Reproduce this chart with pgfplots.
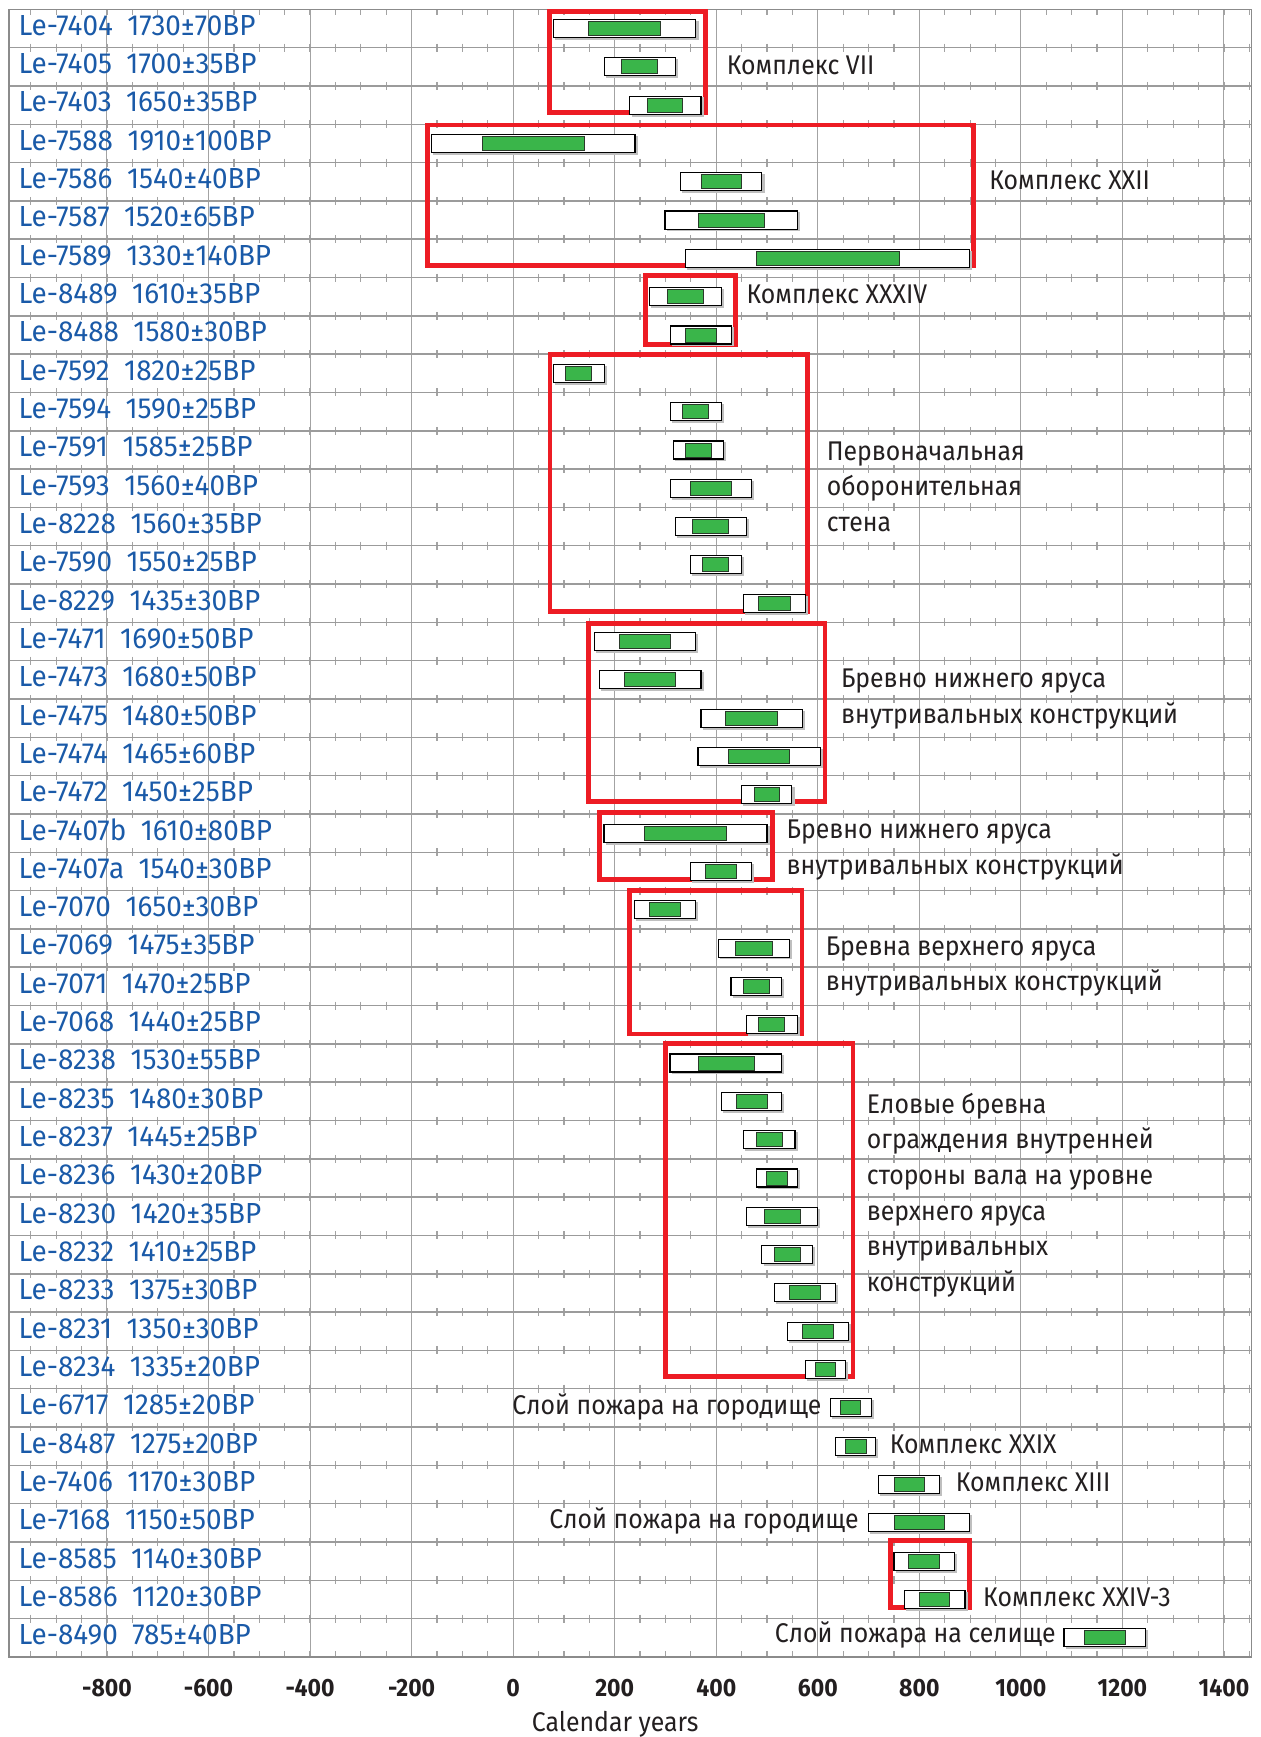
\documentclass[border=0pt]{standalone}
\usepackage{pgfplots}
\usepackage{pgfplotstable}
\pgfplotsset{compat=1.18}
\usepackage{fontspec}
\setmainfont{Fira Sans}[FakeStretch=0.92]
\newfontfamily\lblfam{Fira Sans}[FakeStretch=0.96]
\definecolor{grn}{HTML}{3AB54A}
\definecolor{gbd}{HTML}{2A3A2A}
\definecolor{redb}{HTML}{ED1C24}
\definecolor{lblue}{HTML}{1A5AA8}
\definecolor{txt}{HTML}{231F20}
\definecolor{gridc}{HTML}{A3A3A3}
\newcommand\lblfont{\lblfam\fontsize{14.5}{17}\selectfont}
\newcommand\annfont{\fontsize{13.5}{16}\selectfont}

\pgfplotstableread{
row wlo whi glo ghi
1 80 360 149 290
2 180 319 214 285
3 230 370 264 334
4 -161 240 -61 140
5 330 490 370 450
6 299 560 364 494
7 340 899 480 761
8 269 410 303 375
9 310 430 340 400
10 80 180 103 155
11 310 410 333 385
12 315 414 339 390
13 310 469 349 430
14 319 460 354 425
15 349 450 373 425
16 454 575 484 546
17 160 359 210 310
18 170 370 219 320
19 370 570 419 520
20 364 605 425 545
21 450 549 475 525
22 179 500 259 420
23 349 469 379 440
24 239 359 269 330
25 404 545 438 510
26 429 529 454 505
27 459 560 484 534
28 309 529 364 475
29 410 529 440 500
30 454 555 480 530
31 480 560 499 540
32 460 600 494 565
33 490 589 515 565
34 515 635 545 605
35 540 660 569 630
36 575 655 595 635
37 625 705 644 684
38 635 714 655 695
39 720 840 750 810
40 699 899 750 850
41 750 870 779 840
42 770 890 800 860
43 1085 1245 1125 1205
}\dates

\newcommand\rl[2]{\node[anchor=base west, inner sep=0pt, text=lblue, font=\lblfont] at (axis cs:-975,#1+0.18) {#2};}
\newcommand\anW[3]{\node[anchor=base west, inner sep=0pt, text=txt, font=\annfont] at (axis cs:#1,#2) {#3};}
\newcommand\anE[3]{\node[anchor=base east, inner sep=0pt, text=txt, font=\annfont] at (axis cs:#1,#2) {#3};}

\pgfplotsset{
  common/.style={
    x=0.25375pt, y=19.15pt, y dir=reverse,
    xmin=-993, xmax=1453.5, ymin=0.5, ymax=43.5,
    clip=false,
  },
  redbox/.style={draw=redb, line width=2.4pt, line join=miter, mark=none},
}

\begin{document}
\begin{tikzpicture}
\begin{axis}[
  common,
  axis line style={draw=gridc!85!black, line width=0.6pt},
  xtick={-800,-600,...,1400},
  xticklabels={-800,-600,-400,-200,0,200,400,600,800,1000,1200,1400},
  minor xtick={-950,-900,...,1450},
  ytick={0.5,1.5,...,43.5}, yticklabels={},
  xmajorgrids, xminorgrids, ymajorgrids,
  grid style={draw=gridc, line width=0.5pt},
  minor grid style={draw=gridc, line width=0.6pt, dash pattern=on 4pt off 15.15pt, dash phase=2pt},
  every axis y grid/.append style={line width=0.75pt, draw=gridc!95!black},
  major tick length=0pt, minor tick length=3pt,
  tick style={draw=gridc, line width=0.6pt},
  xticklabel style={anchor=north, inner sep=0pt, yshift=-11pt, text=txt, font=\bfseries\fontsize{12.5}{14}\selectfont},
]
% white (outer) ranges
\addplot[scatter, only marks, mark=text, text mark={},
  visualization depends on={0.25375*(\thisrow{whi}-\thisrow{wlo}) \as \ww},
  scatter/@pre marker code/.code={%
    \fill[black!25] (1pt,-5.4pt) rectangle (\ww pt+1pt,3.6pt);
    \draw[black, fill=white, line width=0.55pt] (0pt,-4.5pt) rectangle (\ww pt,4.5pt);},
  scatter/@post marker code/.code={}]
  table[x=wlo, y=row] {\dates};
% green (inner) ranges
\addplot[scatter, only marks, mark=text, text mark={},
  visualization depends on={0.25375*(\thisrow{ghi}-\thisrow{glo}) \as \gw},
  scatter/@pre marker code/.code={%
    \draw[gbd, fill=grn, line width=0.45pt] (0pt,-3.5pt) rectangle (\gw pt,3.5pt);},
  scatter/@post marker code/.code={}]
  table[x=glo, y=row] {\dates};

\rl{1}{Le-7404\hspace{0.5em}1730±70BP}
\rl{2}{Le-7405\hspace{0.5em}1700±35BP}
\rl{3}{Le-7403\hspace{0.5em}1650±35BP}
\rl{4}{Le-7588\hspace{0.5em}1910±100BP}
\rl{5}{Le-7586\hspace{0.5em}1540±40BP}
\rl{6}{Le-7587\hspace{0.5em}1520±65BP}
\rl{7}{Le-7589\hspace{0.5em}1330±140BP}
\rl{8}{Le-8489\hspace{0.5em}1610±35BP}
\rl{9}{Le-8488\hspace{0.5em}1580±30BP}
\rl{10}{Le-7592\hspace{0.5em}1820±25BP}
\rl{11}{Le-7594\hspace{0.5em}1590±25BP}
\rl{12}{Le-7591\hspace{0.5em}1585±25BP}
\rl{13}{Le-7593\hspace{0.5em}1560±40BP}
\rl{14}{Le-8228\hspace{0.5em}1560±35BP}
\rl{15}{Le-7590\hspace{0.5em}1550±25BP}
\rl{16}{Le-8229\hspace{0.5em}1435±30BP}
\rl{17}{Le-7471\hspace{0.5em}1690±50BP}
\rl{18}{Le-7473\hspace{0.5em}1680±50BP}
\rl{19}{Le-7475\hspace{0.5em}1480±50BP}
\rl{20}{Le-7474\hspace{0.5em}1465±60BP}
\rl{21}{Le-7472\hspace{0.5em}1450±25BP}
\rl{22}{Le-7407b\hspace{0.5em}1610±80BP}
\rl{23}{Le-7407a\hspace{0.5em}1540±30BP}
\rl{24}{Le-7070\hspace{0.5em}1650±30BP}
\rl{25}{Le-7069\hspace{0.5em}1475±35BP}
\rl{26}{Le-7071\hspace{0.5em}1470±25BP}
\rl{27}{Le-7068\hspace{0.5em}1440±25BP}
\rl{28}{Le-8238\hspace{0.5em}1530±55BP}
\rl{29}{Le-8235\hspace{0.5em}1480±30BP}
\rl{30}{Le-8237\hspace{0.5em}1445±25BP}
\rl{31}{Le-8236\hspace{0.5em}1430±20BP}
\rl{32}{Le-8230\hspace{0.5em}1420±35BP}
\rl{33}{Le-8232\hspace{0.5em}1410±25BP}
\rl{34}{Le-8233\hspace{0.5em}1375±30BP}
\rl{35}{Le-8231\hspace{0.5em}1350±30BP}
\rl{36}{Le-8234\hspace{0.5em}1335±20BP}
\rl{37}{Le-6717\hspace{0.5em}1285±20BP}
\rl{38}{Le-8487\hspace{0.5em}1275±20BP}
\rl{39}{Le-7406\hspace{0.5em}1170±30BP}
\rl{40}{Le-7168\hspace{0.5em}1150±50BP}
\rl{41}{Le-8585\hspace{0.5em}1140±30BP}
\rl{42}{Le-8586\hspace{0.5em}1120±30BP}
\rl{43}{Le-8490\hspace{0.5em}785±40BP}

\anW{420}{2.19}{Комплекс VII}
\anW{937}{5.19}{Комплекс XXII}
\anW{459}{8.19}{Комплекс XXXIV}
\anW{617}{12.27}{Первоначальная}
\anW{617}{13.2}{оборонительная}
\anW{617}{14.12}{стена}
\anW{645}{18.21}{Бревно нижнего яруса}
\anW{645}{19.14}{внутривальных конструкций}
\anW{538}{22.15}{Бревно нижнего яруса}
\anW{538}{23.08}{внутривальных конструкций}
\anW{615}{25.19}{Бревна верхнего яруса}
\anW{615}{26.12}{внутривальных конструкций}
\anW{696}{29.31}{Еловые бревна}
\anW{696}{30.24}{ограждения внутренней}
\anW{696}{31.17}{стороны вала на уровне}
\anW{696}{32.1}{верхнего яруса}
\anW{696}{33.03}{внутривальных}
\anW{696}{33.96}{конструкций}
\anE{608}{37.17}{Слой пожара на городище}
\anW{741}{38.19}{Комплекс XXIX}
\anW{871}{39.17}{Комплекс XIII}
\anE{681}{40.15}{Слой пожара на городище}
\anW{925}{42.18}{Комплекс XXIV-3}
\anE{1069}{43.13}{Слой пожара на селище}

\node[anchor=base, inner sep=0pt, text=txt, font=\annfont] at (axis cs:201,45.45) {Calendar years};

\addplot[redbox] coordinates {(72,0.55) (379,0.55) (379,3.2) (72,3.2)} --cycle;
\addplot[redbox] coordinates {(-168,3.52) (907,3.52) (907,7.18) (-168,7.18)} --cycle;
\addplot[redbox] coordinates {(260,7.45) (437.5,7.45) (437.5,9.24) (260,9.24)} --cycle;
\addplot[redbox] coordinates {(72.6,9.5) (580,9.5) (580,16.21) (72.6,16.21)} --cycle;
\addplot[redbox] coordinates {(149,16.53) (614,16.53) (614,21.17) (149,21.17)} --cycle;
\addplot[redbox] coordinates {(170,21.47) (510,21.47) (510,23.21) (170,23.21)} --cycle;
\addplot[redbox] coordinates {(229,23.5) (569,23.5) (569,27.24) (229,27.24)} --cycle;
\addplot[redbox] coordinates {(300.5,27.5) (669.5,27.5) (669.5,36.18) (300.5,36.18)} --cycle;
\addplot[redbox] coordinates {(743,40.47) (899.5,40.47) (899.5,42.2) (743,42.2)} --cycle;

\coordinate (bbA) at (axis cs:-1010.7,0.257);
\coordinate (bbB) at (axis cs:1472.7,45.59);
\end{axis}
\pgfresetboundingbox
\path[use as bounding box] (bbA) rectangle (bbB);
\end{tikzpicture}
\end{document}
